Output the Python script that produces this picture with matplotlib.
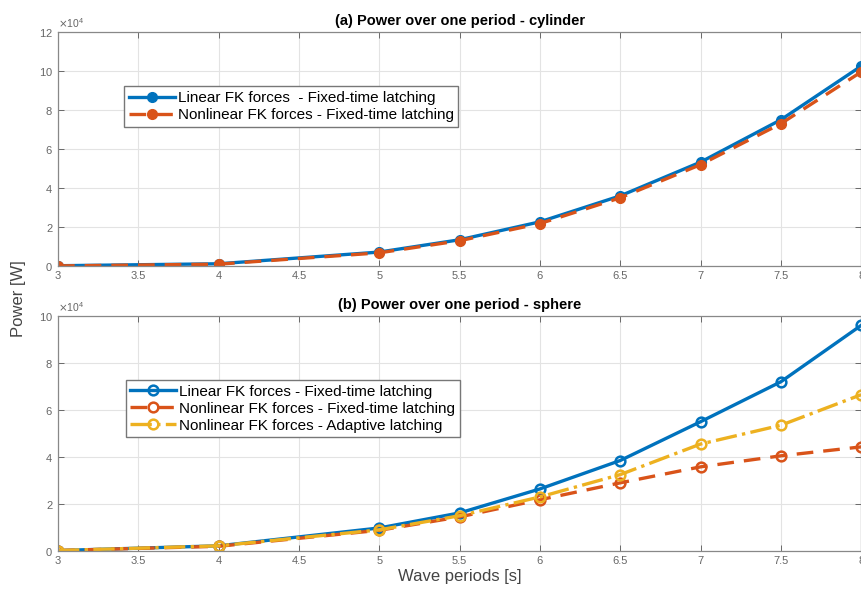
import numpy as np
import matplotlib
matplotlib.use('Agg')
import matplotlib.pyplot as plt

plt.rcParams['font.family'] = ['Liberation Sans', 'DejaVu Sans']

periods = [3, 4, 5, 5.5, 6, 6.5, 7, 7.5, 8]

# cylinder, power in W
cyl_linear = [0.02e4, 0.12e4, 0.72e4, 1.35e4, 2.27e4, 3.6e4, 5.33e4, 7.5e4, 10.25e4]
cyl_nonlinear = [0.01e4, 0.1e4, 0.68e4, 1.3e4, 2.18e4, 3.5e4, 5.2e4, 7.3e4, 9.95e4]

# sphere, power in W
sph_linear = [0.02e4, 0.22e4, 0.98e4, 1.62e4, 2.64e4, 3.85e4, 5.5e4, 7.2e4, 9.6e4]
sph_nonlinear = [0.02e4, 0.2e4, 0.88e4, 1.45e4, 2.18e4, 2.9e4, 3.58e4, 4.05e4, 4.43e4]
sph_adaptive = [0.02e4, 0.22e4, 0.9e4, 1.5e4, 2.3e4, 3.25e4, 4.55e4, 5.35e4, 6.65e4]

xticks = [3, 3.5, 4, 4.5, 5, 5.5, 6, 6.5, 7, 7.5, 8]

blue = '#0072BD'
red = '#D95319'
yellow = '#EDB120'
gray = '#555555'


def style_axes(ax, ymax, ystep):
    ax.set_xlim(3, 8)
    ax.set_ylim(0, ymax)
    ax.set_xticks(xticks)
    ax.set_xticklabels([('%g' % t) for t in xticks])
    ax.set_yticks(np.arange(0, ymax + 1, ystep))
    ax.ticklabel_format(axis='y', style='sci', scilimits=(4, 4), useMathText=True)
    ax.yaxis.get_offset_text().set_fontsize(7.5)
    ax.yaxis.get_offset_text().set_color('#777777')
    ax.grid(True, color='#e3e3e3', linewidth=0.8)
    ax.set_axisbelow(True)
    ax.tick_params(direction='in', top=True, right=True, labelsize=8,
                   colors=gray, labelcolor='#666666', length=4, width=0.6)
    for s in ax.spines.values():
        s.set_color('#888888')
        s.set_linewidth(0.9)


fig = plt.figure(figsize=(8.62, 5.98), dpi=100)

ax1 = fig.add_axes([0.0673, 0.555, 0.9317, 0.3915])
ax1.plot(periods, cyl_linear, '-o', color=blue, linewidth=2.4, markersize=7,
         markerfacecolor=blue, label='Linear FK forces  - Fixed-time latching')
ax1.plot(periods, cyl_nonlinear, '--o', color=red, linewidth=2.4, markersize=7,
         markerfacecolor=red, dashes=(5, 3),
         label='Nonlinear FK forces - Fixed-time latching')
style_axes(ax1, 12e4, 2e4)
ax1.set_title('(a) Power over one period - cylinder', fontsize=10.5,
              fontweight='bold', pad=5)
ax1.legend(loc='upper left', bbox_to_anchor=(0.073, 0.8), fontsize=11,
           handlelength=3, handletextpad=0.2, borderpad=0.3, labelspacing=0.2,
           fancybox=False, edgecolor='#777777', framealpha=1)

ax2 = fig.add_axes([0.0673, 0.0786, 0.9317, 0.393])
ax2.plot(periods, sph_linear, '-o', color=blue, linewidth=2.4, markersize=7,
         markerfacecolor='none', markeredgewidth=1.8,
         label='Linear FK forces - Fixed-time latching')
ax2.plot(periods, sph_nonlinear, '--o', color=red, linewidth=2.4, markersize=7,
         markerfacecolor='none', markeredgewidth=1.8, dashes=(5, 3),
         label='Nonlinear FK forces - Fixed-time latching')
ax2.plot(periods, sph_adaptive, '-.o', color=yellow, linewidth=2.4, markersize=7,
         markerfacecolor='none', markeredgewidth=1.8,
         label='Nonlinear FK forces - Adaptive latching')
style_axes(ax2, 10e4, 2e4)
ax2.set_title('(b) Power over one period - sphere', fontsize=10.5,
              fontweight='bold', pad=5)
ax2.legend(loc='upper left', bbox_to_anchor=(0.075, 0.76), fontsize=11,
           handlelength=3, handletextpad=0.2, borderpad=0.3, labelspacing=0.2,
           fancybox=False, edgecolor='#777777', framealpha=1)
ax2.set_xlabel('Wave periods [s]', fontsize=12, color='#444444', labelpad=2)

fig.text(0.022, 0.5, 'Power [W]', rotation=90, fontsize=12, color='#444444',
         ha='center', va='center')

fig.savefig('out.png', dpi=100)
